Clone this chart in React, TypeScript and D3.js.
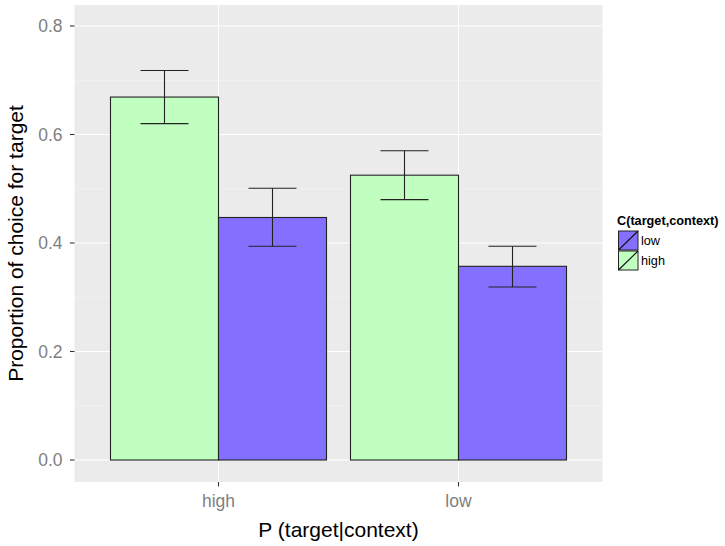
import React from "react";
import * as d3 from "d3";

const groups = ["high", "low"];
const series = ["high", "low"];
const means = [
  [0.669, 0.447],
  [0.525, 0.357],
];
const lowers = [
  [0.620, 0.394],
  [0.480, 0.319],
];
const uppers = [
  [0.718, 0.501],
  [0.570, 0.394],
];
const yTicks = [0, 0.2, 0.4, 0.6, 0.8];
const yMinor = [0.1, 0.3, 0.5, 0.7];
const legendOrder = ["low", "high"];

const fills: Record<string, string> = { high: "#C1FFC1", low: "#8470FF" };
const FONT = "'Liberation Sans', Arial, Helvetica, sans-serif";

export default function App() {
  const W = 725;
  const H = 546;
  const panel = { left: 74.5, right: 602.5, top: 5, bottom: 482 };

  // discrete x positions 1..n with 0.6 expansion on each side
  const x = d3.scaleLinear().domain([0.4, 2.6]).range([panel.left, panel.right]);
  const y = d3
    .scaleLinear()
    .domain([0, 0.8])
    .range([460, 26]);

  const dodge = 0.9;
  const barW = dodge / series.length;
  const errW = 0.2;

  return (
    <svg width={W} height={H} style={{ position: "absolute", left: 0, top: 0 }} fontFamily={FONT}>
      <rect x={0} y={0} width={W} height={H} fill="#fff" />
      <rect
        x={panel.left}
        y={panel.top}
        width={panel.right - panel.left}
        height={panel.bottom - panel.top}
        fill="#EBEBEB"
      />
      {yMinor.map((v) => (
        <line key={"mn" + v} x1={panel.left} x2={panel.right} y1={y(v)} y2={y(v)} stroke="#F5F5F5" strokeWidth={0.6} />
      ))}
      {yTicks.map((v) => (
        <line key={"mj" + v} x1={panel.left} x2={panel.right} y1={y(v)} y2={y(v)} stroke="#fff" strokeWidth={1.1} />
      ))}
      {groups.map((g, i) => (
        <line key={"vx" + g} x1={x(i + 1)} x2={x(i + 1)} y1={panel.top} y2={panel.bottom} stroke="#fff" strokeWidth={1.1} />
      ))}

      {groups.map((g, gi) =>
        series.map((s, si) => {
          const cx = gi + 1 - dodge / 2 + barW * (si + 0.5);
          const x0 = x(cx - barW / 2);
          const x1 = x(cx + barW / 2);
          return (
            <rect
              key={g + s}
              x={x0}
              y={y(means[gi][si])}
              width={x1 - x0}
              height={y(0) - y(means[gi][si])}
              fill={fills[s]}
              stroke="#222"
              strokeWidth={1.1}
            />
          );
        })
      )}
      {groups.map((g, gi) =>
        series.map((s, si) => {
          const cx = gi + 1 - dodge / 2 + barW * (si + 0.5);
          const xl = x(cx - errW / 2);
          const xr = x(cx + errW / 2);
          const yu = y(uppers[gi][si]);
          const yl = y(lowers[gi][si]);
          return (
            <g key={"e" + g + s} stroke="#222" strokeWidth={1.1}>
              <line x1={x(cx)} x2={x(cx)} y1={yu} y2={yl} />
              <line x1={xl} x2={xr} y1={yu} y2={yu} />
              <line x1={xl} x2={xr} y1={yl} y2={yl} />
            </g>
          );
        })
      )}

      {/* y axis */}
      {yTicks.map((v) => (
        <g key={"yt" + v}>
          <line x1={panel.left - 4.5} x2={panel.left} y1={y(v)} y2={y(v)} stroke="#333" strokeWidth={1.1} />
          <text x={panel.left - 12} y={y(v)} dy="0.36em" textAnchor="end" fontSize={17.5} fill="#7F7F7F">
            {v.toFixed(1)}
          </text>
        </g>
      ))}
      {/* x axis */}
      {groups.map((g, i) => (
        <g key={"xt" + g}>
          <line x1={x(i + 1)} x2={x(i + 1)} y1={panel.bottom} y2={panel.bottom + 4.5} stroke="#333" strokeWidth={1.1} />
          <text x={x(i + 1)} y={506.5} textAnchor="middle" fontSize={17.5} fill="#7F7F7F">
            {g}
          </text>
        </g>
      ))}
      <text x={(panel.left + panel.right) / 2} y={537} textAnchor="middle" fontSize={21} fill="#000">
        P (target|context)
      </text>
      <text
        transform={`translate(22.5, ${(panel.top + panel.bottom) / 2}) rotate(-90)`}
        textAnchor="middle"
        fontSize={21}
        fill="#000"
      >
        Proportion of choice for target
      </text>

      {/* legend */}
      <text x={617} y={225} fontSize={12.7} fontWeight="bold" fill="#000">
        C(target,context)
      </text>
      {legendOrder.map((s, i) => {
        const ky = 231 + i * 20;
        return (
          <g key={"lg" + s}>
            <rect x={618.5} y={ky} width={19.5} height={19} fill={fills[s]} stroke="#222" strokeWidth={1} />
            <line x1={618.5} y1={ky + 19} x2={638} y2={ky} stroke="#111" strokeWidth={1.1} />
            <text x={641} y={ky + 9.5} dy="0.36em" fontSize={12.7} fill="#000">
              {s}
            </text>
          </g>
        );
      })}
    </svg>
  );
}
